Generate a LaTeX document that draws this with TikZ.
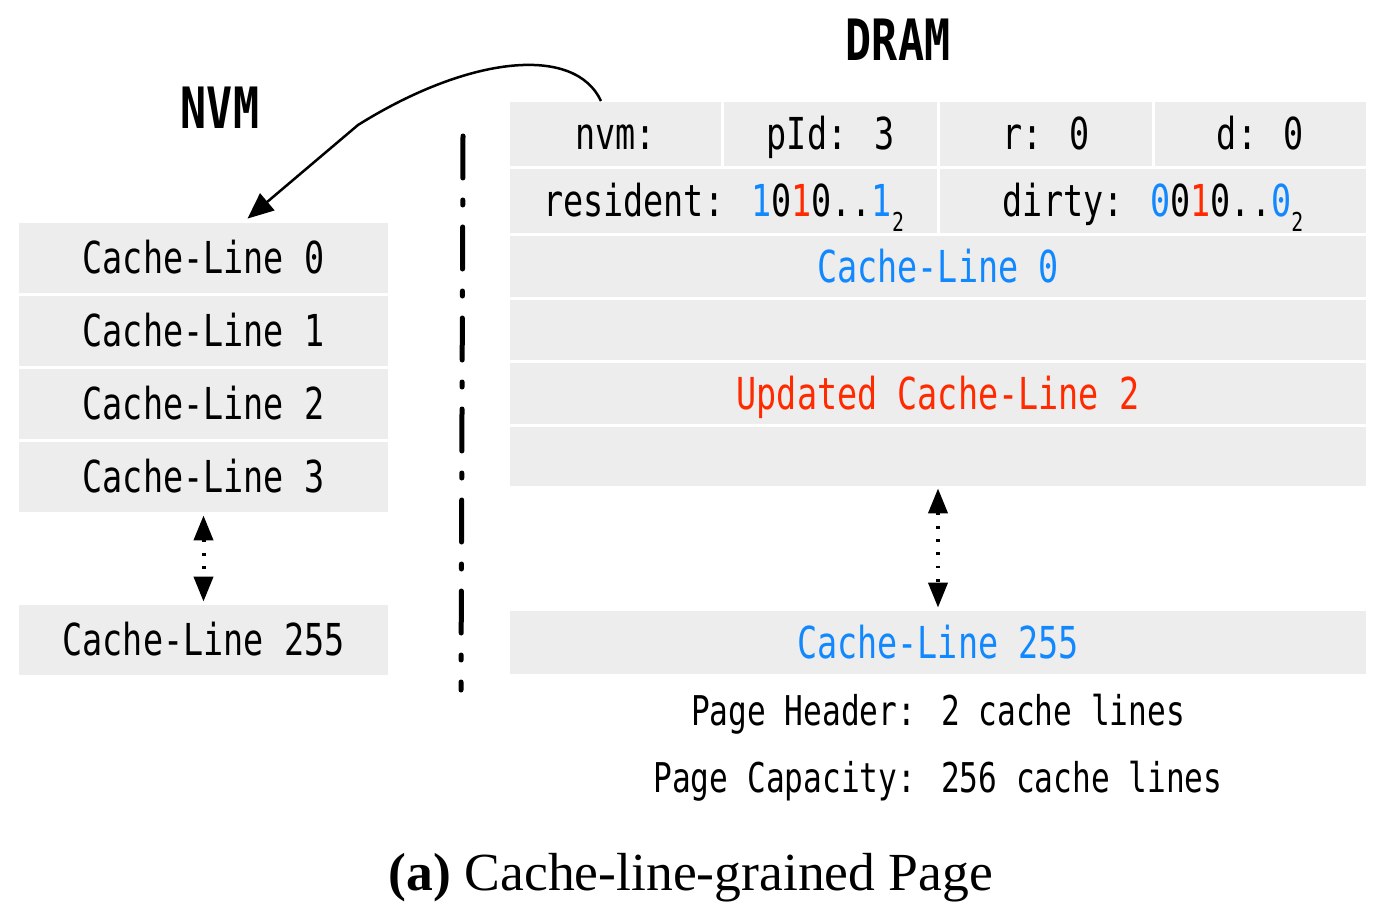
\documentclass[tikz,border=0pt]{standalone}
\usepackage{fontspec}
\usetikzlibrary{arrows.meta,calc}
\setmainfont{Liberation Serif}
\newfontfamily\cellfont[FakeStretch=0.76]{DejaVu Sans Mono}
\definecolor{cellgray}{RGB}{237,237,237}
\definecolor{lineblue}{RGB}{18,136,255}
\definecolor{linered}{RGB}{255,42,0}
\newcommand{\sub}[1]{\raisebox{-0.35em}{\fontsize{13}{13}\selectfont #1}}
\begin{document}
% one drawing unit is 0.5pt, so node sizes are given in pt as half the unit counts
\begin{tikzpicture}[x=0.5pt,y=-0.5pt,
  cell/.style={fill=cellgray, inner sep=0pt, font=\cellfont\fontsize{22}{26}\selectfont,
    text height=16pt, text depth=0.5pt},
  nvmcell/.style={cell, minimum width=184.5pt, minimum height=35pt},
  dramcell/.style={cell, minimum width=428pt},
  title/.style={font=\cellfont\bfseries\fontsize{28.5}{32}\selectfont},
  note/.style={font=\cellfont\fontsize{20.5}{24}\selectfont},
  spanarrow/.style={line width=2pt, dash pattern=on 1.4pt off 5.25pt,
    {Triangle[width=9.5pt,length=12.5pt]}-{Triangle[width=9.5pt,length=12.5pt]}},
  divider/.style={line width=2.5pt, line cap=round, dash pattern=on 21pt off 11pt on 2.5pt off 11pt}]
\useasboundingbox (0,0) rectangle (1398,920);

% titles
\node[title] (nvmtitle) at (220,108) {NVM};
\node[title] (dramtitle) at (898,40) {DRAM};

% NVM page: individual cache lines
\node[nvmcell] (n0) at (203.5,258) {Cache-Line 0};
\node[nvmcell] (n1) at (203.5,331) {Cache-Line 1};
\node[nvmcell] (n2) at (203.5,404) {Cache-Line 2};
\node[nvmcell] (n3) at (203.5,477) {Cache-Line 3};
\node[nvmcell] (n255) at (203.5,640) {Cache-Line 255};
\draw[spanarrow] ($(n3.south)+(0,3)$) -- ($(n255.north)+(0,-3)$);

% separator between NVM and DRAM
\coordinate (septop) at (463,136);
\coordinate (sepbot) at (461,690);
\draw[divider] (septop) -- (sepbot);

% DRAM page header
\node[cell, minimum width=105.5pt, minimum height=32pt] (hnvm) at (615.5,134) {nvm:};
\node[cell, minimum width=106.5pt, minimum height=32pt] (hpid) at (830.5,134) {pId: 3};
\node[cell, minimum width=106pt, minimum height=32pt] (hr) at (1046,134) {r: 0};
\node[cell, minimum width=105.5pt, minimum height=32pt] (hd) at (1260.5,134) {d: 0};
\node[cell, minimum width=213.5pt, minimum height=32pt] (hres) at (723.5,201)
  {resident: \textcolor{lineblue}{1}0\textcolor{linered}{1}0..\textcolor{lineblue}{1}\sub{2}};
\node[cell, minimum width=213pt, minimum height=32pt] (hdirty) at (1153,201)
  {dirty: \textcolor{lineblue}{0}0\textcolor{linered}{1}0..\textcolor{lineblue}{0}\sub{2}};

% DRAM cache lines
\node[dramcell, minimum height=30.5pt, text=lineblue] (d0) at (938,266.5) {Cache-Line 0};
\node[dramcell, minimum height=30pt] (d1) at (938,330) {};
\node[dramcell, minimum height=30.5pt, text=linered] (d2) at (938,393.5) {Updated Cache-Line 2};
\node[dramcell, minimum height=29.5pt] (d3) at (938,456.5) {};
\node[dramcell, minimum height=31.5pt, text=lineblue] (d255) at (938,642.5) {Cache-Line 255};
\draw[spanarrow] ($(d3.south)+(0,2)$) -- ($(d255.north)+(0,-3)$);

% notes
\node[note] (hdrnote) at (938,714) {Page Header: 2 cache lines};
\node[note] (capnote) at (938,781) {Page Capacity: 256 cache lines};

% pointer from the header to the NVM page
\coordinate (ptrstart) at (601,101);
\coordinate (ptrbend) at (358,125);
\draw[line width=1.25pt, -{Triangle[width=11pt,length=13pt]}]
  (ptrstart) .. controls (575,45) and (470,55) .. (ptrbend) -- ($(n0.north)+(44,-4)$);

% caption
\node[font=\fontsize{26.8}{30}\selectfont] (caption) at (691,878) {\textbf{(a)} Cache-line-grained Page};
\end{tikzpicture}
\end{document}
